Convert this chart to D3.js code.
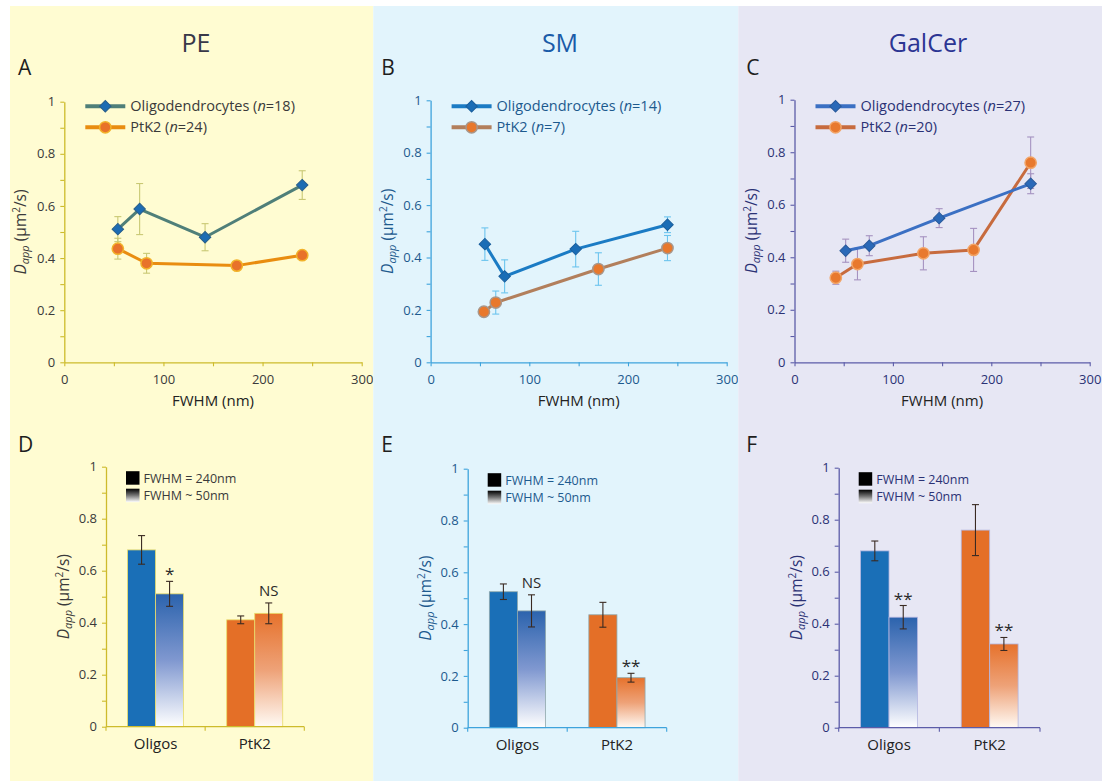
<!DOCTYPE html>
<html>
<head>
<meta charset="utf-8">
<script src="https://cdn.jsdelivr.net/npm/d3@7"></script>
<style>
  body { margin: 0; background: #ffffff; }
  svg { display: block; font-family: "Open Sans", "Noto Sans", sans-serif; }
</style>
</head>
<body>
<svg id="fig" width="1110" height="781"></svg>
<script>
// ---- data -------------------------------------------------------------
const lipids = ["PE", "SM", "GalCer"];
const topLetters = ["A", "B", "C"];
const bottomLetters = ["D", "E", "F"];
const fwhmTicks = [0, 100, 200, 300];
const dappTicks = [0, 0.2, 0.4, 0.6, 0.8, 1];
const cellTypes = ["Oligos", "PtK2"];
const fwhmSettings = ["FWHM = 240nm", "FWHM ~ 50nm"];

// Dapp vs FWHM, oligodendrocytes
const oligoN = [18, 14, 27];
const peOligoFwhm = [54, 76, 142, 240];
const peOligoDapp = [0.511, 0.588, 0.480, 0.680];
const peOligoErr = [0.048, 0.098, 0.052, 0.055];
const smOligoFwhm = [55, 75, 147, 240];
const smOligoDapp = [0.451, 0.328, 0.432, 0.525];
const smOligoErr = [0.062, 0.063, 0.068, 0.030];
const galOligoFwhm = [52, 76, 147, 240];
const galOligoDapp = [0.425, 0.444, 0.549, 0.680];
const galOligoErr = [0.044, 0.038, 0.036, 0.038];

// Dapp vs FWHM, PtK2 cells
const ptk2N = [24, 7, 20];
const pePtk2Fwhm = [54, 83, 174, 240];
const pePtk2Dapp = [0.436, 0.380, 0.371, 0.411];
const pePtk2Err = [0.040, 0.038, 0.016, 0.015];
const smPtk2Fwhm = [54, 66, 170, 240];
const smPtk2Dapp = [0.193, 0.228, 0.356, 0.436];
const smPtk2Err = [0.017, 0.044, 0.062, 0.048];
const galPtk2Fwhm = [42, 64, 131, 182, 240];
const galPtk2Dapp = [0.322, 0.374, 0.415, 0.428, 0.760];
const galPtk2Err = [0.025, 0.060, 0.063, 0.082, 0.098];

// Bar panels: [FWHM = 240 nm, FWHM ~ 50 nm] per cell type
const peOligoBars = [0.680, 0.511];
const peOligoBarErr = [0.055, 0.048];
const pePtk2Bars = [0.411, 0.436];
const pePtk2BarErr = [0.015, 0.040];
const smOligoBars = [0.525, 0.451];
const smOligoBarErr = [0.030, 0.062];
const smPtk2Bars = [0.436, 0.193];
const smPtk2BarErr = [0.048, 0.017];
const galOligoBars = [0.680, 0.425];
const galOligoBarErr = [0.038, 0.045];
const galPtk2Bars = [0.760, 0.322];
const galPtk2BarErr = [0.098, 0.025];

// significance of the ~50 nm vs 240 nm difference
const peSignif = ["*", "NS"];
const smSignif = ["NS", "**"];
const galSignif = ["**", "**"];

// ---- layout and styling --------------------------------------------------
const columns = [
  {
    bg: [10, 373.3], bgColor: "#fffcd2",
    line: { x0: 64.3, x1: 361.7, y0: 362.3, y1: 101.7 },
    bar: { x0: 106, x1: 304.3, y0: 726.7, y1: 466.7 },
    titleX: 196, titleColor: "#383848",
    axisColor: "#cdbb2c", textColor: "#3a3a3a", errColor: "#c9c874",
    oligoLine: "#4f7f79", oligoMarker: "#1d6cb3", oligoMarkerStroke: "#2a5f8a",
    ptkLine: "#e98d10", ptkMarker: "#e8722a", ptkMarkerStroke: "#f2b22a",
    barStroke: "#e9dc6a",
    oligoFwhm: peOligoFwhm, oligoDapp: peOligoDapp, oligoErr: peOligoErr,
    ptkFwhm: pePtk2Fwhm, ptkDapp: pePtk2Dapp, ptkErr: pePtk2Err,
    bars: [[peOligoBars, peOligoBarErr], [pePtk2Bars, pePtk2BarErr]],
    signif: peSignif
  },
  {
    bg: [373.3, 738.3], bgColor: "#e2f4fc",
    line: { x0: 430.6, x1: 726.7, y0: 362.3, y1: 100.3 },
    bar: { x0: 467.7, x1: 666.7, y0: 727.7, y1: 468.7 },
    titleX: 560, titleColor: "#1a5ba8",
    axisColor: "#3ea3dc", textColor: "#1d5a8e", errColor: "#6cc4ee",
    oligoLine: "#1b7bc4", oligoMarker: "#1a6db6", oligoMarkerStroke: "#1a5e9c",
    ptkLine: "#b27f5c", ptkMarker: "#e8782c", ptkMarkerStroke: "#a8968a",
    barStroke: "#90a8ac",
    oligoFwhm: smOligoFwhm, oligoDapp: smOligoDapp, oligoErr: smOligoErr,
    ptkFwhm: smPtk2Fwhm, ptkDapp: smPtk2Dapp, ptkErr: smPtk2Err,
    bars: [[smOligoBars, smOligoBarErr], [smPtk2Bars, smPtk2BarErr]],
    signif: smSignif
  },
  {
    bg: [738.3, 1102], bgColor: "#e7e7f4",
    line: { x0: 794.5, x1: 1089.7, y0: 362.3, y1: 99.7 },
    bar: { x0: 838.7, x1: 1040, y0: 727.7, y1: 467.7 },
    titleX: 928, titleColor: "#2c3593",
    axisColor: "#5c5ca8", textColor: "#2b3275", errColor: "#a592c0",
    oligoLine: "#3b70c3", oligoMarker: "#2a69b8", oligoMarkerStroke: "#2a5a9a",
    ptkLine: "#c76b3e", ptkMarker: "#e8792e", ptkMarkerStroke: "#f2a466",
    barStroke: "#b4b6e0",
    oligoFwhm: galOligoFwhm, oligoDapp: galOligoDapp, oligoErr: galOligoErr,
    ptkFwhm: galPtk2Fwhm, ptkDapp: galPtk2Dapp, ptkErr: galPtk2Err,
    bars: [[galOligoBars, galOligoBarErr], [galPtk2Bars, galPtk2BarErr]],
    signif: galSignif
  }
];

const svg = d3.select("#fig");
const defs = svg.append("defs");

// vertical fades used for the ~50 nm bars and their legend swatch
function fade(id, top, mid, bottom) {
  const g = defs.append("linearGradient").attr("id", id)
    .attr("x1", 0).attr("y1", 0).attr("x2", 0).attr("y2", 1);
  g.append("stop").attr("offset", "0%").attr("stop-color", top);
  g.append("stop").attr("offset", "50%").attr("stop-color", mid);
  g.append("stop").attr("offset", "100%").attr("stop-color", bottom);
}
fade("fadeBlue", "#2b63ad", "#8098d0", "#ffffff");
fade("fadeOrange", "#e6722c", "#eea278", "#fffaf4");
fade("fadeBlack", "#000000", "#777777", "#ffffff");

const barSolid = ["#1a6fb7", "#e46f27"];
const barFade = ["url(#fadeBlue)", "url(#fadeOrange)"];

// y-axis title: D_app (µm²/s)
function dappTitle(g, x, y, color) {
  const t = g.append("text")
    .attr("transform", `translate(${x},${y}) rotate(-90)`)
    .attr("text-anchor", "middle")
    .attr("font-size", 15.5).attr("fill", color);
  t.append("tspan").attr("font-style", "italic").text("D");
  t.append("tspan").attr("font-style", "italic").attr("font-size", 11).attr("dy", 3).text("app");
  t.append("tspan").attr("dy", -3).text(" (\u00b5m");
  t.append("tspan").attr("font-size", 10).attr("dy", -6).text("2");
  t.append("tspan").attr("dy", 6).text("/s)");
}

function styleAxis(g, col) {
  g.select(".domain").attr("stroke", col.axisColor).attr("stroke-width", 1.3);
  g.selectAll(".tick line").attr("stroke", col.axisColor).attr("stroke-width", 1.1);
  g.selectAll(".tick text").attr("fill", col.textColor).attr("font-size", 13)
    .attr("font-family", "\"Open Sans\", sans-serif");
}

const diamond = d3.symbol(d3.symbolSquare, 66);
const circle = d3.symbol(d3.symbolCircle, 100);

columns.forEach((col, i) => {
  const g = svg.append("g");
  g.append("rect").attr("x", col.bg[0]).attr("y", 6)
    .attr("width", col.bg[1] - col.bg[0]).attr("height", 781 - 6)
    .attr("fill", col.bgColor);

  // column heading and panel letters
  g.append("text").attr("x", col.titleX).attr("y", 52).attr("text-anchor", "middle")
    .attr("font-size", 25).attr("fill", col.titleColor).text(lipids[i]);
  g.append("text").attr("x", col.bg[0] + 8).attr("y", 75)
    .attr("font-size", 21).attr("fill", "#1e1e1e").text(topLetters[i]);
  g.append("text").attr("x", col.bg[0] + 8).attr("y", 452)
    .attr("font-size", 21).attr("fill", "#1e1e1e").text(bottomLetters[i]);

  // ---------- line chart ----------
  const L = col.line;
  const x = d3.scaleLinear().domain([0, 300]).range([L.x0, L.x1]);
  const y = d3.scaleLinear().domain([0, 1]).range([L.y0, L.y1]);

  const yAx = g.append("g").attr("transform", `translate(${L.x0},0)`)
    .call(d3.axisLeft(y).tickValues(d3.range(11).map(k => k / 10))
      .tickFormat(d => dappTicks.includes(d) ? String(d) : "")
      .tickSize(4).tickSizeOuter(0).tickPadding(5));
  styleAxis(yAx, col);
  const xAx = g.append("g").attr("transform", `translate(0,${L.y0})`)
    .call(d3.axisBottom(x).tickValues(d3.range(7).map(k => k * 50))
      .tickFormat(d => fwhmTicks.includes(d) ? String(d) : "")
      .tickSize(4).tickSizeOuter(0).tickPadding(8));
  styleAxis(xAx, col);

  g.append("text").attr("x", (L.x0 + L.x1) / 2).attr("y", 406).attr("text-anchor", "middle")
    .attr("font-size", 15).attr("fill", "#222").text("FWHM (nm)");
  dappTitle(g, L.x0 - 38, (L.y0 + L.y1) / 2, col.textColor);

  const series = [
    { fw: col.oligoFwhm, d: col.oligoDapp, e: col.oligoErr, line: col.oligoLine,
      fill: col.oligoMarker, stroke: col.oligoMarkerStroke, shape: "diamond" },
    { fw: col.ptkFwhm, d: col.ptkDapp, e: col.ptkErr, line: col.ptkLine,
      fill: col.ptkMarker, stroke: col.ptkMarkerStroke, shape: "circle" }
  ];

  // error bars underneath the traces
  series.forEach(s => {
    s.fw.forEach((f, k) => {
      const cx = x(f), top = y(s.d[k] + s.e[k]), bot = y(s.d[k] - s.e[k]);
      const eg = g.append("g").attr("stroke", col.errColor).attr("stroke-width", 1.1);
      eg.append("line").attr("x1", cx).attr("x2", cx).attr("y1", top).attr("y2", bot);
      eg.append("line").attr("x1", cx - 3.5).attr("x2", cx + 3.5).attr("y1", top).attr("y2", top);
      eg.append("line").attr("x1", cx - 3.5).attr("x2", cx + 3.5).attr("y1", bot).attr("y2", bot);
    });
  });

  const lineGen = d3.line().x(p => x(p[0])).y(p => y(p[1]));
  function marker(sel, s, px, py) {
    if (s.shape === "diamond") {
      sel.append("path").attr("d", diamond())
        .attr("transform", `translate(${px},${py}) rotate(45)`)
        .attr("fill", s.fill).attr("stroke", s.stroke).attr("stroke-width", 1);
    } else {
      sel.append("path").attr("d", circle())
        .attr("transform", `translate(${px},${py})`)
        .attr("fill", s.fill).attr("stroke", s.stroke).attr("stroke-width", 1.5);
    }
  }
  series.slice().reverse().forEach(s => {
    const pts = s.fw.map((f, k) => [f, s.d[k]]);
    g.append("path").datum(pts).attr("d", lineGen)
      .attr("fill", "none").attr("stroke", s.line).attr("stroke-width", 3)
      .attr("stroke-linejoin", "round");
    pts.forEach(p => marker(g, s, x(p[0]), y(p[1])));
  });

  // legend
  const legendNames = [["Oligodendrocytes", oligoN[i]], ["PtK2", ptk2N[i]]];
  legendNames.forEach((nm, k) => {
    const ly = 106.3 + k * 21;
    const lx = L.x0 + 21;
    g.append("line").attr("x1", lx).attr("x2", lx + 40).attr("y1", ly).attr("y2", ly)
      .attr("stroke", series[k].line).attr("stroke-width", 4);
    marker(g, series[k], lx + 20, ly);
    const t = g.append("text").attr("x", lx + 45).attr("y", ly + 5)
      .attr("font-size", 14.5).attr("fill", col.textColor);
    t.append("tspan").text(nm[0] + " (");
    t.append("tspan").attr("font-style", "italic").text("n");
    t.append("tspan").text("=" + nm[1] + ")");
  });

  // ---------- bar chart ----------
  const B = col.bar;
  const xb = d3.scaleBand().domain(cellTypes).range([B.x0, B.x1]).padding(0);
  const xi = d3.scaleBand().domain(fwhmSettings).range([0, xb.bandwidth()])
    .paddingInner(0).paddingOuter(0.77);
  const yb = d3.scaleLinear().domain([0, 1]).range([B.y0, B.y1]);

  cellTypes.forEach((ct, c) => {
    const [vals, errs] = col.bars[c];
    fwhmSettings.forEach((fs, k) => {
      const bx = xb(ct) + xi(fs);
      g.append("rect").attr("x", bx).attr("y", yb(vals[k]))
        .attr("width", xi.bandwidth()).attr("height", yb(0) - yb(vals[k]))
        .attr("fill", k === 0 ? barSolid[c] : barFade[c])
        .attr("stroke", col.barStroke).attr("stroke-width", 0.8);
    });
    fwhmSettings.forEach((fs, k) => {
      const cx = xb(ct) + xi(fs) + xi.bandwidth() / 2;
      const top = yb(vals[k] + errs[k]), bot = yb(vals[k] - errs[k]);
      const eg = g.append("g").attr("stroke", "#3a2a22").attr("stroke-width", 1.1);
      eg.append("line").attr("x1", cx).attr("x2", cx).attr("y1", top).attr("y2", bot);
      eg.append("line").attr("x1", cx - 3.5).attr("x2", cx + 3.5).attr("y1", top).attr("y2", top);
      eg.append("line").attr("x1", cx - 3.5).attr("x2", cx + 3.5).attr("y1", bot).attr("y2", bot);
    });
    // significance mark above the ~50 nm bar
    const sx = xb(ct) + xi(fwhmSettings[1]) + xi.bandwidth() / 2;
    const sTop = yb(vals[1] + errs[1]);
    const mark = col.signif[c];
    g.append("text").attr("x", sx).attr("y", mark === "NS" ? sTop - 7 : sTop - 1)
      .attr("text-anchor", "middle").attr("font-size", mark === "NS" ? 15 : 17)
      .attr("fill", "#2a2a2a").text(mark);
  });

  const ybAx = g.append("g").attr("transform", `translate(${B.x0},0)`)
    .call(d3.axisLeft(yb).tickValues(d3.range(11).map(k => k / 10))
      .tickFormat(d => dappTicks.includes(d) ? String(d) : "")
      .tickSize(4).tickSizeOuter(0).tickPadding(5));
  styleAxis(ybAx, col);
  // category axis: ticks at the band edges, names under the bands
  const xbAx = g.append("g").attr("transform", `translate(0,${B.y0})`);
  xbAx.append("line").attr("x1", B.x0).attr("x2", B.x1).attr("stroke", col.axisColor).attr("stroke-width", 1.3);
  [B.x0, xb(cellTypes[1]), B.x1].forEach(tx => {
    xbAx.append("line").attr("x1", tx).attr("x2", tx).attr("y1", 0).attr("y2", 4)
      .attr("stroke", col.axisColor).attr("stroke-width", 1.1);
  });
  cellTypes.forEach(ct => {
    xbAx.append("text").attr("x", xb(ct) + xb.bandwidth() / 2).attr("y", 22)
      .attr("text-anchor", "middle").attr("font-size", 15).attr("fill", "#222").text(ct);
  });
  dappTitle(g, B.x0 - 37, (B.y0 + B.y1) / 2, col.textColor);

  // bar legend
  const lgx = B.x0 + 20;
  [["#000000", fwhmSettings[0]], ["url(#fadeBlack)", fwhmSettings[1]]].forEach((d, k) => {
    const ly = B.y1 + 4.5 + k * 17.5;
    g.append("rect").attr("x", lgx).attr("y", ly).attr("width", 13.5).attr("height", 13.5)
      .attr("fill", d[0]);
    g.append("text").attr("x", lgx + 17.5).attr("y", ly + 11.5)
      .attr("font-size", 12.5).attr("fill", col.textColor).text(d[1]);
  });
});
</script>
</body>
</html>
